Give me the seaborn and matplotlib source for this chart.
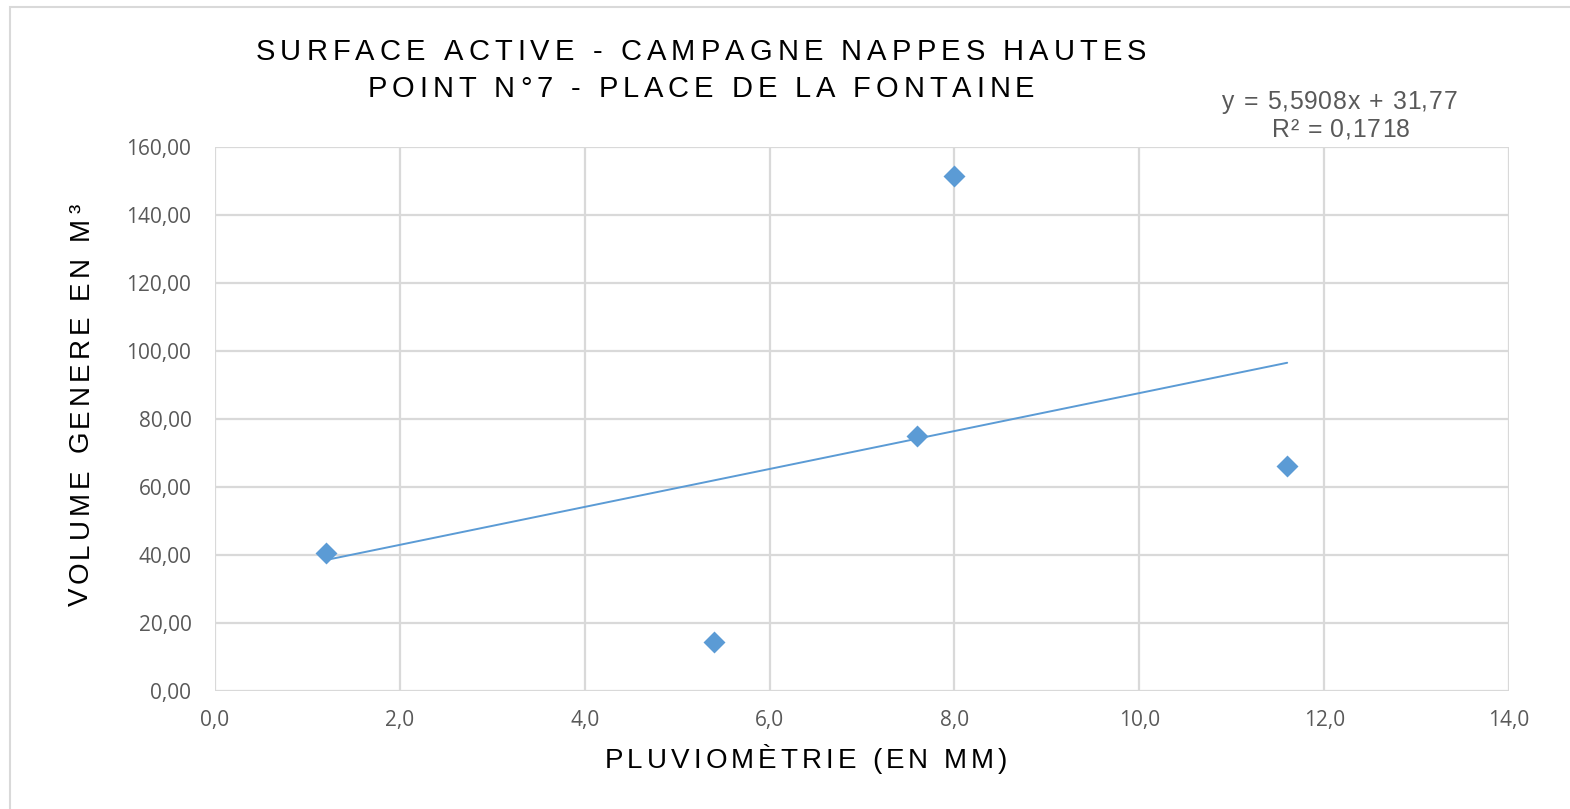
import numpy as np
import pandas as pd
import matplotlib
matplotlib.use("Agg")
import matplotlib.pyplot as plt
import seaborn as sns
from matplotlib.ticker import FuncFormatter, MultipleLocator
from matplotlib.patches import Rectangle
from matplotlib.font_manager import FontProperties, findfont, get_font

# Values
pluvio_mm = [1.2, 5.4, 7.6, 8.0, 11.6]
volume_m3 = [40.6, 14.4, 75.0, 151.5, 66.2]
title_lines = ["SURFACE ACTIVE - CAMPAGNE NAPPES HAUTES", "POINT N°7 - PLACE DE LA FONTAINE"]
x_label = "PLUVIOMÈTRIE (EN MM)"
y_label = "VOLUME GENERE EN M³"
equation = "y = 5,5908x + 31,77"
r2_text = "R² = 0,1718"

df = pd.DataFrame({"x": pluvio_mm, "y": volume_m3})

sns.set_theme(style="white")
plt.rcParams["font.family"] = ["Liberation Sans", "DejaVu Sans"]

W, H, DPI = 1570, 809, 100
blue = "#5b9bd5"
grid_c = "#d9d9d9"
tick_c = "#595959"


def spaced_text(fig, c, base, s, size, span, color="black", vertical=False):
    """Letter-spaced text covering `span` px, centred at c (px from left / top)."""
    prop = FontProperties(family="Liberation Sans", size=size)
    font = get_font(findfont(prop))
    font.set_size(size, DPI)
    adv = [font.load_char(ord(ch)).linearHoriAdvance / 65536 for ch in s]
    gap = (span - sum(adv)) / (len(s) - 1)
    pos = c - span / 2
    if vertical:
        pos = c + span / 2  # reads bottom to top
    for ch, a in zip(s, adv):
        if vertical:
            fig.text(base / W, 1 - pos / H, ch, rotation=90, rotation_mode="anchor",
                     ha="left", va="baseline", fontproperties=prop, color=color)
            pos -= a + gap
        else:
            fig.text(pos / W, 1 - base / H, ch, ha="left", va="baseline",
                     fontproperties=prop, color=color)
            pos += a + gap


fig = plt.figure(figsize=(W / DPI, H / DPI), dpi=DPI)
ax = fig.add_axes([215 / W, 1 - 691 / H, (1509 - 215) / W, (691 - 147) / H])

# outer chart border
fig.patches.append(Rectangle((10 / W, -0.05), 1.1, 1 - 7 / H + 0.05,
                             transform=fig.transFigure, fill=False,
                             edgecolor=grid_c, linewidth=1.5))

# linear trendline computed from the data
slope, intercept = np.polyfit(df["x"], df["y"], 1)
xs = np.array([df["x"].min(), df["x"].max()])
sns.lineplot(x=xs, y=slope * xs + intercept, ax=ax, color=blue, linewidth=1.4, zorder=3)
sns.scatterplot(data=df, x="x", y="y", ax=ax, marker="D", s=125, color=blue,
                edgecolor=blue, linewidth=0, zorder=4)

ax.set_xlim(0, 14)
ax.set_ylim(0, 160)
ax.xaxis.set_major_locator(MultipleLocator(2))
ax.yaxis.set_major_locator(MultipleLocator(20))
ax.xaxis.set_major_formatter(FuncFormatter(lambda v, p: f"{v:.1f}".replace(".", ",")))
ax.yaxis.set_major_formatter(FuncFormatter(lambda v, p: f"{v:.2f}".replace(".", ",")))
ax.grid(True, color=grid_c, linewidth=1.6)
ax.set_axisbelow(True)
for s in ax.spines.values():
    s.set_visible(False)
ax.tick_params(axis="both", length=0, labelsize=15, labelcolor=tick_c)
ax.tick_params(axis="y", pad=17)
ax.tick_params(axis="x", pad=14)
for lab in ax.get_xticklabels() + ax.get_yticklabels():
    lab.set_fontfamily(["Open Sans", "DejaVu Sans"])
ax.set_xlabel("")
ax.set_ylabel("")

spaced_text(fig, 701, 60, title_lines[0], 21, 891)
spaced_text(fig, 701, 97, title_lines[1], 21, 667)
spaced_text(fig, 806, 768, x_label, 20, 403)
spaced_text(fig, 405, 88, y_label, 20, 402, vertical=True)

spaced_text(fig, 1340, 109, equation, 17.8, 235, color=tick_c)
spaced_text(fig, 1341, 137, r2_text, 17.8, 138, color=tick_c)

fig.savefig("out.png", dpi=DPI)
